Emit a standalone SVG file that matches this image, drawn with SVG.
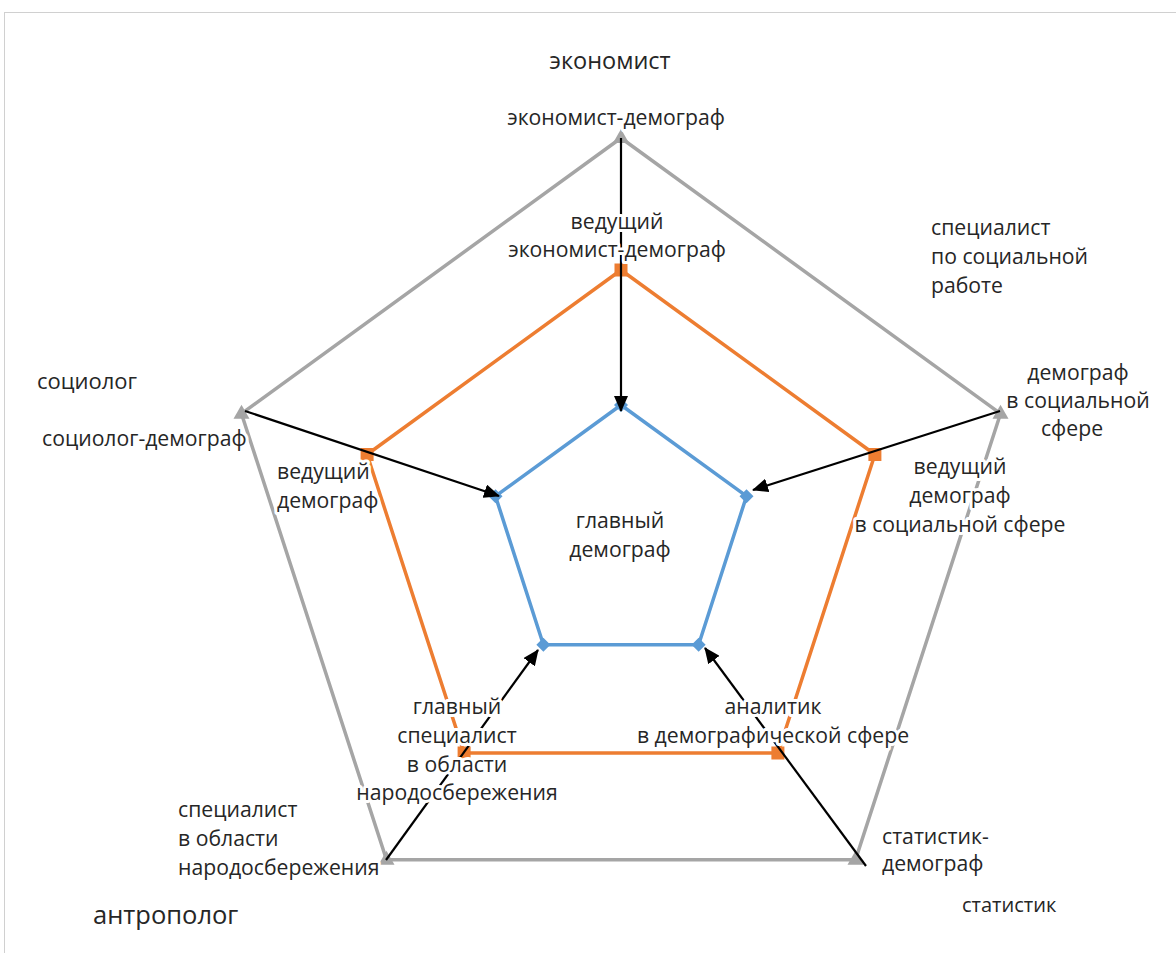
<svg xmlns="http://www.w3.org/2000/svg" width="1176" height="953" viewBox="0 0 1176 953">
<style>
.t{font-family:"Open Sans","Noto Sans","Liberation Sans",sans-serif;font-size:21.2px;fill:#262626;stroke:#ffffff;stroke-width:6px;stroke-linejoin:round;paint-order:stroke}
.m{text-anchor:middle}
.gray{fill:none;stroke:#a5a5a5;stroke-width:3.5}
.org{fill:none;stroke:#ed7d31;stroke-width:3.5}
.blu{fill:none;stroke:#5b9bd5;stroke-width:3.5}
.arr{stroke:#000;stroke-width:2.2;fill:none;marker-end:url(#ah)}
</style>
<defs>
<marker id="ah" viewBox="0 0 16 14" refX="15" refY="7" markerWidth="16" markerHeight="14" markerUnits="userSpaceOnUse" orient="auto"><path d="M0,0 L16,7 L0,14 z" fill="#000"/></marker>
<polygon id="tri" points="0,-9 8,5 -8,5" fill="#a5a5a5"/>
<rect id="sq" x="-6.5" y="-6.5" width="13" height="13" fill="#ed7d31"/>
<polygon id="dia" points="0,-7 7,0 0,7 -7,0" fill="#5b9bd5"/>
</defs>
<rect x="4.5" y="12.5" width="1200" height="1000" fill="#fff" stroke="#d0d0d0" stroke-width="1"/>

<g id="series-outer">
<polygon class="gray" points="621,138 1000.5,413.7 855.5,859.8 386.5,859.8 241.5,413.7"/>
<use href="#tri" x="621" y="138"/><use href="#tri" x="1000.5" y="413.7"/><use href="#tri" x="855.5" y="859.8"/><use href="#tri" x="386.5" y="859.8"/><use href="#tri" x="241.5" y="413.7"/>
</g>
<g id="series-middle">
<polygon class="org" points="621,270 874.9,454.5 777.9,753 464.1,753 367.1,454.5"/>
<use href="#sq" x="621" y="270"/><use href="#sq" x="874.9" y="454.5"/><use href="#sq" x="777.9" y="753"/><use href="#sq" x="464.1" y="753"/><use href="#sq" x="367.1" y="454.5"/>
</g>
<g id="series-inner">
<polygon class="blu" points="621,405 746.5,496.2 698.6,644.8 543.4,644.8 495.5,496.2"/>
<use href="#dia" x="621" y="405"/><use href="#dia" x="746.5" y="496.2"/><use href="#dia" x="698.6" y="644.8"/><use href="#dia" x="543.4" y="644.8"/><use href="#dia" x="495.5" y="496.2"/>
</g>

<g id="connectors">
<line class="arr" x1="621" y1="138" x2="621" y2="411"/>
<line class="arr" x1="245" y1="411" x2="499" y2="496"/>
<line class="arr" x1="1000" y1="411" x2="753" y2="490"/>
<line class="arr" x1="866" y1="866" x2="705" y2="648"/>
<line class="arr" x1="386" y1="860" x2="538" y2="650"/>
</g>

<g id="title-economist"><text class="t m" x="610" y="69" style="font-size:23.5px">экономист</text></g>
<g id="title-sociologist"><text class="t" x="37" y="389" style="font-size:22px">социолог</text></g>
<g id="title-anthropologist"><text class="t" x="93" y="924" style="font-size:25.5px">антрополог</text></g>
<g id="title-statistician"><text class="t" x="962" y="912" style="font-size:20px">статистик</text></g>
<g id="title-social-worker"><text class="t" x="931" y="235">специалист</text><text class="t" x="931" y="264">по социальной</text><text class="t" x="931" y="293">работе</text></g>

<g id="node-economist-demographer"><text class="t m" x="616" y="125">экономист-демограф</text></g>
<g id="node-sociologist-demographer"><text class="t" x="42" y="446">социолог-демограф</text></g>
<g id="node-demographer-social"><text class="t m" x="1078" y="380">демограф</text><text class="t m" x="1078" y="408">в социальной</text><text class="t m" x="1072" y="436">сфере</text></g>
<g id="node-statistician-demographer"><text class="t" x="882" y="844">статистик-</text><text class="t" x="882" y="871">демограф</text></g>
<g id="node-savings-specialist"><text class="t" x="178" y="817">специалист</text><text class="t" x="178" y="846">в области</text><text class="t" x="178" y="875">народосбережения</text></g>

<g id="node-lead-economist-demographer"><text class="t m" x="617" y="229">ведущий</text><text class="t m" x="617" y="257">экономист-демограф</text></g>
<g id="node-lead-demographer"><text class="t" x="277" y="479">ведущий</text><text class="t" x="277" y="508">демограф</text></g>
<g id="node-lead-demographer-social"><text class="t m" x="960" y="474">ведущий</text><text class="t m" x="960" y="503">демограф</text><text class="t m" x="960" y="532">в социальной сфере</text></g>
<g id="node-analyst"><text class="t m" x="773" y="714">аналитик</text><text class="t m" x="773" y="743">в демографической сфере</text></g>
<g id="node-chief-savings-specialist"><text class="t m" x="457" y="714">главный</text><text class="t m" x="457" y="743">специалист</text><text class="t m" x="457" y="772">в области</text><text class="t m" x="457" y="800">народосбережения</text></g>

<g id="node-chief-demographer"><text class="t m" x="620" y="528">главный</text><text class="t m" x="620" y="557">демограф</text></g>
</svg>
